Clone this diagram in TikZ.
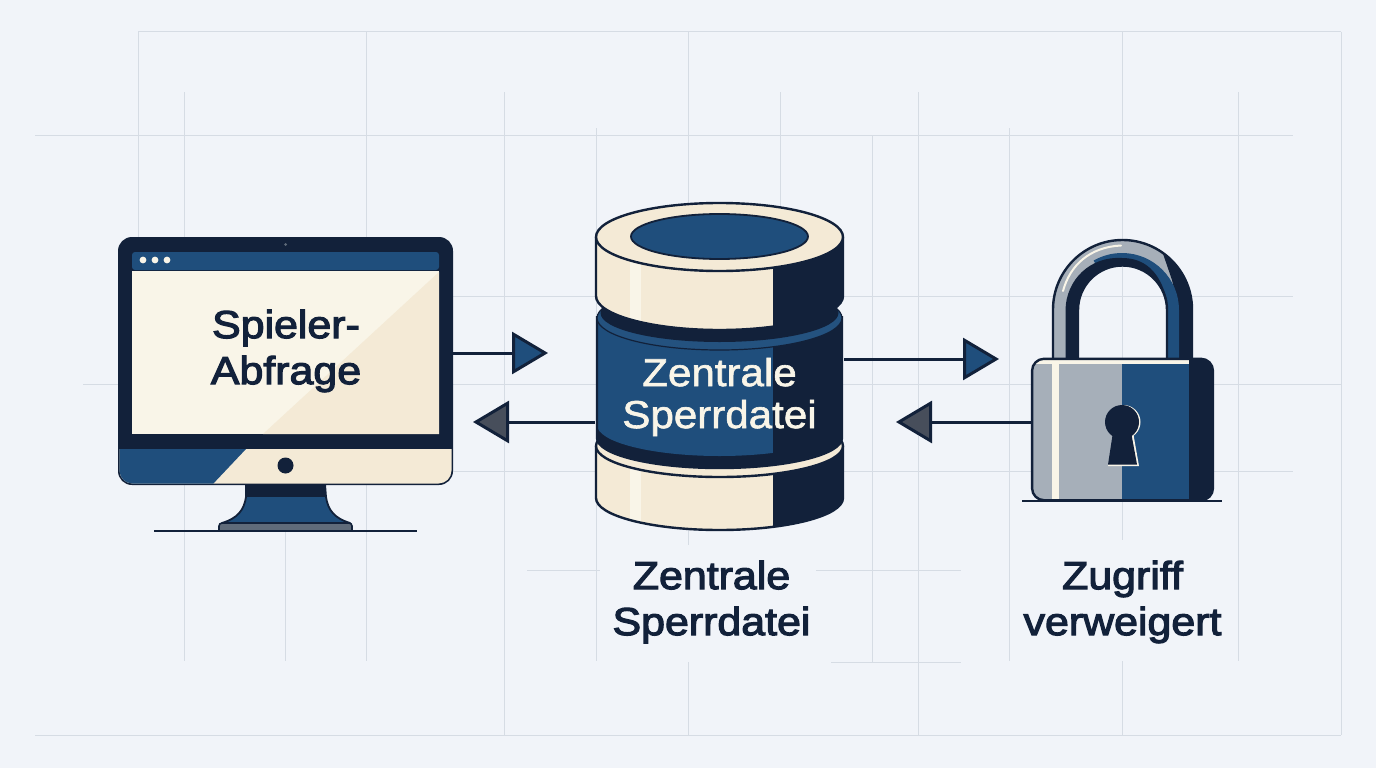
\documentclass[tikz,border=0pt]{standalone}
\usepackage{fontspec}
\setmainfont{Liberation Sans}
\newfontfamily\lab[FakeBold=3,FakeStretch=1.1]{Liberation Sans}
\newfontfamily\labb[FakeBold=1.6,FakeStretch=1.08]{Liberation Sans}
\usetikzlibrary{arrows.meta,shapes.geometric}
\definecolor{bgc}{HTML}{F1F4F9}
\definecolor{gridc}{HTML}{D6DCE4}
\definecolor{ink}{HTML}{12213A}
\definecolor{navy}{HTML}{1F4E7C}
\definecolor{rimc}{HTML}{24527F}
\definecolor{creamc}{HTML}{F4EAD6}
\definecolor{creaml}{HTML}{F9F5E8}
\definecolor{steel}{HTML}{A6AFB9}
\definecolor{headc}{HTML}{474E5B}
\definecolor{basec}{HTML}{5F6B7A}
\tikzset{
  gl/.style={draw=gridc,line width=1pt},
  outl/.style={draw=ink,line width=2.4pt,line join=round},
  flow/.style={draw=ink,line width=3pt},
  fwd/.style={flow,-{Triangle[length=36pt,width=42pt,fill=navy]}},
  back/.style={flow,-{Triangle[length=36pt,width=42pt,fill=headc]}},
  title/.style={font=\lab\fontsize{39}{46}\selectfont,text=ink,align=center,inner sep=0pt},
  onblue/.style={font=\labb\fontsize{39}{42}\selectfont,text=creaml,align=center,inner sep=0pt},
}
\begin{document}
\begin{tikzpicture}[x=1pt,y=-1pt]
\useasboundingbox (0,0) rectangle (1376,768);
\fill[bgc] (0,0) rectangle (1376,768);
% grid
\foreach \y/\a/\b in {32/138/1341,135/35/1293,296/138/1293,384/83/1341,471/138/1293,735/35/1341,662/831/961,570/527/600,570/816/961}
  \draw[gl] (\a,\y) -- (\b,\y);
\foreach \x/\a/\b in {138/32/240,184/92/661,285/520/661,366/32/661,504/92/735,596/128/661,688/32/545,688/662/735,780/92/240,872/135/662,918/92/735,1009/128/661,1122/32/540,1122/661/735,1238/92/661,1341/32/735}
  \draw[gl] (\x,\a) -- (\x,\b);

% ---------- monitor
\draw[outl,fill=navy,line width=1.8pt] (246,484) -- (246,497) .. controls (244,510) and (238,518) .. (222,523) -- (350,523) .. controls (334,518) and (328,510) .. (326,497) -- (325,484) -- cycle;
\fill[ink] (246,484) rectangle (325,497);
\draw[outl,fill=basec,rounded corners=3pt,line width=1.6pt] (219,531) -- (219,523) -- (352,523) -- (352,531);
\node[fill=ink,rounded corners=14pt,minimum width=335pt,minimum height=248pt,inner sep=0pt] (mon) at (285.5,361) {};
\begin{scope}
  \clip[rounded corners=13pt] (119.5,300) -- (119.5,483.5) -- (451.5,483.5) -- (451.5,300) -- cycle;
  \fill[creamc] (118,449) rectangle (453,485);
  \fill[navy] (118,449) -- (246,449) -- (212,485) -- (118,485) -- cycle;
\end{scope}
\fill[ink] (285.5,465.5) circle[radius=8pt];
\fill[basec] (285.5,244.5) circle[radius=1.5pt];
\fill[navy,rounded corners=3pt] (132,270) -- (132,252) -- (439,252) -- (439,270) -- cycle;
\fill[creaml] (132,270.5) rectangle (439,434);
\fill[creamc] (439,272) -- (263,434) -- (439,434) -- cycle;
\foreach \x in {143,155,167} \fill[creaml] (\x,260) circle[radius=3.4pt];
\node[title] (t1) at (286,351) {Spieler-\\Abfrage};
\draw[draw=ink,line width=2pt] (154,531) -- (417,531);

% ---------- database: lower disc
\begin{scope}
  \clip (596,446) -- (596,498) arc[start angle=180,end angle=360,x radius=123.5pt,y radius=32pt] -- (843,446) -- cycle;
  \fill[creamc] (590,440) rectangle (850,535);
  \fill[creaml] (630,440) rectangle (641,535);
  \fill[ink] (773,440) rectangle (850,535);
\end{scope}
\draw[outl] (596,446) -- (596,498) arc[start angle=180,end angle=360,x radius=123.5pt,y radius=32pt] -- (843,446);
\draw[outl,fill=creamc] (719.5,446) ellipse[x radius=123.5pt,y radius=31pt];
% middle
\begin{scope}
  \clip (597,316) -- (597,438) arc[start angle=180,end angle=360,x radius=122.5pt,y radius=30pt] -- (842,316) -- cycle;
  \fill[ink] (590,300) rectangle (850,475);
  \fill[navy] (597,316) -- (597,425) arc[start angle=180,end angle=360,x radius=122.5pt,y radius=31pt] -- (842,316) -- cycle;
  \fill[ink] (773,300) rectangle (850,475);
\end{scope}
\draw[outl] (597,316) -- (597,438) arc[start angle=180,end angle=360,x radius=122.5pt,y radius=30pt] -- (842,316);
\fill[rimc,draw=ink,line width=1.2pt] (719.5,318) ellipse[x radius=122.5pt,y radius=32pt];
\fill[ink] (719.5,313) ellipse[x radius=119pt,y radius=29pt];
% top disc
\begin{scope}
  \clip (596,237) -- (596,296) arc[start angle=180,end angle=360,x radius=123.5pt,y radius=34pt] -- (843,237) -- cycle;
  \fill[creamc] (590,230) rectangle (850,335);
  \fill[creaml] (630,230) rectangle (641,335);
  \fill[ink] (773,230) rectangle (850,335);
\end{scope}
\draw[outl] (596,237) -- (596,296) arc[start angle=180,end angle=360,x radius=123.5pt,y radius=34pt] -- (843,296) -- (843,237);
\node[draw=ink,line width=2.4pt,fill=creamc,ellipse,minimum width=247pt,minimum height=68pt,inner sep=0pt] (db) at (719.5,237) {};
\node[draw=ink,line width=1.8pt,fill=navy,ellipse,minimum width=177pt,minimum height=45pt,inner sep=0pt] (dbtop) at (719.5,236.5) {};
\node[onblue] (t2) at (719.5,397) {Zentrale\\Sperrdatei};
\node[title] (t3) at (711.5,602) {Zentrale\\Sperrdatei};

% ---------- padlock
\begin{scope}
  \clip (1053,359) -- (1053,309.5) arc[start angle=180,end angle=0,radius=69.5pt] -- (1192,359) -- (1167,359) -- (1167,310) arc[start angle=0,end angle=180,radius=44.5pt] -- (1078,359) -- cycle;
  \fill[steel] (1045,235) rectangle (1200,365);
  \fill[ink] (1160,245) -- (1172,280) -- (1179,310) -- (1179,365) -- (1200,365) -- (1200,235) -- (1150,235) -- cycle;
  \fill[navy] (1179,359) -- (1179,310) arc[start angle=0,end angle=120,radius=57pt] -- (1100,270) -- (1160,359) -- cycle;
  \fill[ink] (1065.5,365) -- (1065.5,310) .. controls (1066,280) and (1090,256) .. (1122,258) .. controls (1145,258) and (1160,272) .. (1167,300) -- (1167,310) arc[start angle=0,end angle=180,radius=44.5pt] -- (1078,365) -- cycle;
\end{scope}
\draw[outl] (1053,359) -- (1053,309.5) arc[start angle=180,end angle=0,radius=69.5pt] -- (1192,359) (1167,359) -- (1167,310) arc[start angle=0,end angle=180,radius=44.5pt] -- (1078,359);
\draw[creaml,line width=2pt,line cap=round] (1063,291) .. controls (1070,265) and (1090,247) .. (1121,245.5);
\node[rounded corners=12pt,minimum width=180.5pt,minimum height=141pt,inner sep=0pt,fill=steel] (lock) at (1122.5,429.5) {};
\begin{scope}
  \clip[rounded corners=12pt] (lock.north west) rectangle (lock.south east);
  \fill[navy] (1122,359) rectangle (1213,501);
  \fill[ink] (1189,359) rectangle (1213,501);
  \fill[creaml] (1052,359) rectangle (1059,501);
  \fill[creaml] (1032,359) rectangle (1189,364);
\end{scope}
\draw[outl,rounded corners=12pt] (lock.north west) rectangle (lock.south east);
\fill[creaml] (1123.5,422) circle[radius=17pt];
\fill[creaml] (1114,432) -- (1133,432) -- (1139,466) -- (1108,466) -- cycle;
\fill[ink] (1122,422) circle[radius=17pt];
\fill[ink] (1113,432) -- (1131,432) -- (1137,464.5) -- (1108,464.5) -- cycle;
\draw[draw=ink,line width=2pt] (1022,501) -- (1222,501);
\node[title] (t4) at (1122.5,602) {Zugriff\\verweigert};

% ---------- connectors
\coordinate (e1) at (548,353);
\coordinate (e2) at (473,422);
\coordinate (e3) at (999,359);
\coordinate (e4) at (896,422);
\draw[fwd] (mon.east |- e1) -- (e1);
\draw[back] (db.west |- e2) -- (e2);
\draw[fwd] (db.east |- e3) -- (e3);
\draw[back] (lock.west |- e4) -- (e4);
\end{tikzpicture}
\end{document}
